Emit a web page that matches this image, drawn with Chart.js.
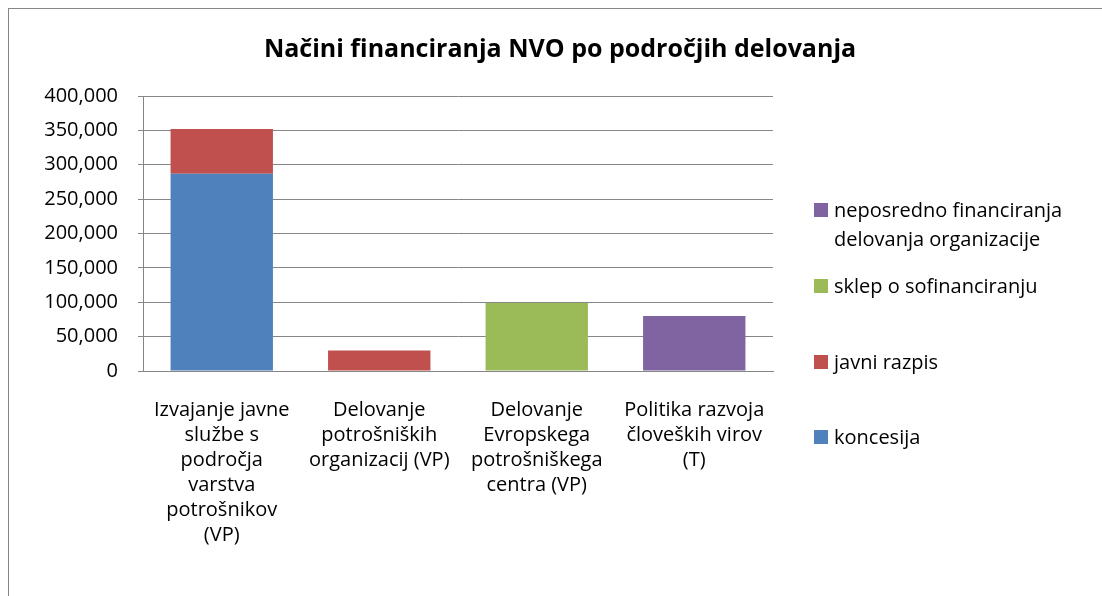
<!DOCTYPE html>
<html>
<head>
<meta charset="utf-8">
<script src="https://cdn.jsdelivr.net/npm/chart.js@4/dist/chart.umd.min.js"></script>
<style>
    html, body { margin: 0; padding: 0; background: #fff; overflow: hidden; }
    #wrap { position: relative; width: 1102px; height: 596px; }
    #frame { position: absolute; left: 8px; top: 8px; width: 1200px; height: 700px;
             border-left: 1px solid #868686; border-top: 1px solid #868686; }
    #chart { position: absolute; left: 0; top: 0; }
    #title { position: absolute; left: 0; top: 32px; width: 1120px; text-align: center;
             font-family: 'Open Sans', sans-serif; font-weight: bold; font-size: 25px;
             line-height: 30px; color: #000; white-space: nowrap; }
    #legend { position: absolute; left: 0; top: 0; font-family: 'Open Sans', sans-serif;
              font-size: 20px; color: #000; }
    .legend-item { position: absolute; left: 814px; width: 270px; line-height: 29px; }
    .legend-box { position: absolute; left: 0; top: 8px; width: 14px; height: 14px; }
    .legend-text { margin-left: 20px; width: 250px; }
</style>
</head>
<body>
<div id="wrap">
    <div id="frame"></div>
    <canvas id="chart" width="1102" height="596"></canvas>
    <div id="title"></div>
    <div id="legend"></div>
</div>
<script>
// chart data
const chartTitle = 'Načini financiranja NVO po področjih delovanja';
const categories = [
    ['Izvajanje javne', 'službe s', 'področja', 'varstva', 'potrošnikov', '(VP)'],
    ['Delovanje', 'potrošniških', 'organizacij (VP)'],
    ['Delovanje', 'Evropskega', 'potrošniškega', 'centra (VP)'],
    ['Politika razvoja', 'človeških virov', '(T)']
];
const seriesNames = ['koncesija', 'javni razpis', 'sklep o sofinanciranju', 'neposredno financiranja delovanja organizacije'];
const koncesija = [287000, null, null, null];
const javniRazpis = [65000, 30000, null, null];
const sklepOSofinanciranju = [null, null, 99000, null];
const neposrednoFinanciranje = [null, null, null, 80000];
const seriesColors = ['#4F81BD', '#C0504D', '#9BBB59', '#8064A2'];
const yTicks = [0, 50000, 100000, 150000, 200000, 250000, 300000, 350000, 400000];

const seriesValues = [koncesija, javniRazpis, sklepOSofinanciranju, neposrednoFinanciranje];
const gridColor = '#868686';
const fontFamily = "'Open Sans', sans-serif";

document.addEventListener('DOMContentLoaded', function() {
    document.getElementById('title').textContent = chartTitle;
    drawChart();
    buildLegend();
});

function drawChart() {
    const ctx = document.getElementById('chart').getContext('2d');
    new Chart(ctx, {
        type: 'bar',
        data: {
            labels: categories,
            datasets: seriesNames.map((name, i) => ({
                label: name,
                data: seriesValues[i],
                backgroundColor: seriesColors[i],
                borderWidth: 0,
                barPercentage: 0.65,
                categoryPercentage: 1.0
            }))
        },
        options: {
            responsive: false,
            animation: false,
            layout: { padding: { left: 0, right: 329, top: 96, bottom: 29 } },
            plugins: {
                legend: { display: false },
                tooltip: { enabled: false },
                title: { display: false }
            },
            scales: {
                x: {
                    stacked: true,
                    grid: { display: false },
                    border: { display: true, color: gridColor, width: 1 },
                    ticks: {
                        color: '#000',
                        maxRotation: 0,
                        autoSkip: false,
                        padding: 19,
                        font: { family: fontFamily, size: 20, lineHeight: 1.25 }
                    }
                },
                y: {
                    stacked: true,
                    min: 0,
                    max: 400000,
                    afterFit: function(scale) { scale.width = 143; },
                    afterBuildTicks: function(scale) {
                        scale.ticks = yTicks.map(v => ({ value: v }));
                    },
                    grid: { color: gridColor, lineWidth: 1, tickLength: 5 },
                    border: { display: true, color: gridColor, width: 1 },
                    ticks: {
                        color: '#000',
                        padding: 20,
                        font: { family: fontFamily, size: 20 },
                        callback: function(value) { return value.toLocaleString('en-US'); }
                    }
                }
            }
        }
    });
}

function buildLegend() {
    const legend = document.getElementById('legend');
    const tops = [195, 271, 347, 422];
    // Excel lists stacked series in reverse order
    for (let i = seriesNames.length - 1, k = 0; i >= 0; i--, k++) {
        const item = document.createElement('div');
        item.className = 'legend-item';
        item.style.top = tops[k] + 'px';
        item.innerHTML = `<span class="legend-box" style="background:${seriesColors[i]}"></span>
                          <div class="legend-text">${seriesNames[i]}</div>`;
        legend.appendChild(item);
    }
}
</script>
</body>
</html>
